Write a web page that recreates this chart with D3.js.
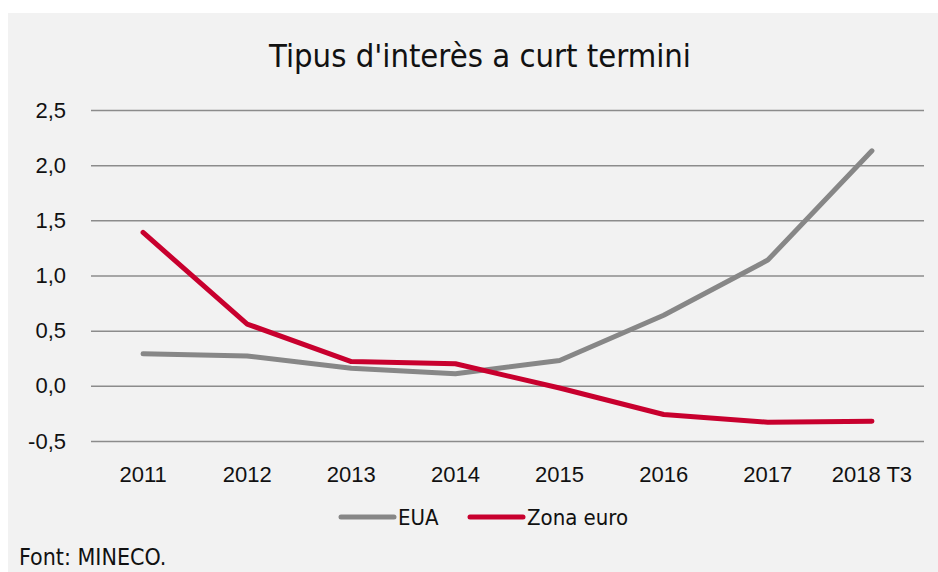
<!DOCTYPE html>
<html>
<head>
<meta charset="utf-8">
<script src="https://cdn.jsdelivr.net/npm/d3@7"></script>
<style>
  body { margin: 0; background: #fff; }
  svg { display: block; font-family: "Liberation Sans Narrow", "DejaVu Sans Condensed", sans-serif; }
  .num { font-family: "Liberation Sans", Arial, sans-serif; }
</style>
</head>
<body>
<div id="chart"></div>
<script>
// dades
const categories = ["2011", "2012", "2013", "2014", "2015", "2016", "2017", "2018 T3"];
const eua = [0.29, 0.27, 0.16, 0.11, 0.23, 0.64, 1.14, 2.13];
const zonaEuro = [1.39, 0.56, 0.22, 0.20, -0.02, -0.26, -0.33, -0.32];
const yTicks = [-0.5, 0, 0.5, 1.0, 1.5, 2.0, 2.5];
const series = [
    { name: "EUA", values: eua, color: "#878787" },
    { name: "Zona euro", values: zonaEuro, color: "#c8002e" }
];

const width = 938, height = 572;
const svg = d3.select("#chart").append("svg")
    .attr("width", width)
    .attr("height", height);

// fons del panell
svg.append("rect")
    .attr("x", 8).attr("y", 13)
    .attr("width", width - 8).attr("height", height - 13)
    .attr("fill", "#f2f2f2");

svg.append("text")
    .attr("x", 480).attr("y", 67)
    .attr("text-anchor", "middle")
    .attr("font-size", 32.5)
    .attr("fill", "#111")
    .text("Tipus d'interès a curt termini");

const x = d3.scaleBand().domain(categories).range([91, 924]);
const y = d3.scaleLinear().domain([-0.5, 2.5]).range([441, 110]);

// línies de graella
const yAxis = svg.append("g")
    .attr("transform", "translate(91,0)")
    .call(d3.axisLeft(y).tickValues(yTicks)
        .tickSize(-(924 - 91))
        .tickPadding(25)
        .tickFormat(d => d3.format(".1f")(d).replace(".", ",").replace("−", "-")));
yAxis.select(".domain").remove();
yAxis.selectAll(".tick line").attr("stroke", "#8c8c8c").attr("stroke-width", 1.5);
yAxis.selectAll(".tick text").attr("class", "num").attr("font-size", 22).attr("fill", "#111");

const xAxis = svg.append("g")
    .attr("transform", "translate(0,441)")
    .call(d3.axisBottom(x).tickSize(0).tickPadding(0));
xAxis.select(".domain").remove();
xAxis.selectAll(".tick text")
    .attr("class", "num")
    .attr("font-size", 22)
    .attr("fill", "#111")
    .attr("dy", null)
    .attr("y", 41);

const line = d3.line()
    .x((d, i) => x(categories[i]) + x.bandwidth() / 2)
    .y(d => y(d));

series.forEach(s => {
    svg.append("path")
        .datum(s.values)
        .attr("d", line)
        .attr("fill", "none")
        .attr("stroke", s.color)
        .attr("stroke-width", 5)
        .attr("stroke-linecap", "round")
        .attr("stroke-linejoin", "round");
});

// llegenda
const legendItems = [
    { x: 341, textX: 398 },
    { x: 470, textX: 527 }
];
series.forEach((s, i) => {
    const g = svg.append("g");
    g.append("line")
        .attr("x1", legendItems[i].x).attr("x2", legendItems[i].x + 53)
        .attr("y1", 517).attr("y2", 517)
        .attr("stroke", s.color)
        .attr("stroke-width", 5)
        .attr("stroke-linecap", "round");
    g.append("text")
        .attr("x", legendItems[i].textX).attr("y", 525)
        .attr("font-size", 22)
        .attr("fill", "#111")
        .text(s.name);
});

svg.append("text")
    .attr("x", 19).attr("y", 565)
    .attr("font-size", 23)
    .attr("fill", "#111")
    .text("Font: MINECO.");
</script>
</body>
</html>
